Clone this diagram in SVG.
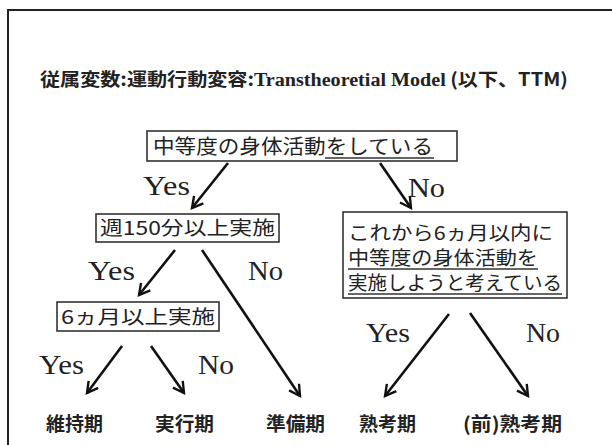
<svg xmlns="http://www.w3.org/2000/svg" width="612" height="445" viewBox="0 0 612 445">
<style>
.jp{font-family:"Noto Sans CJK JP","Noto Sans CJK SC",sans-serif;fill:#222;}
.lbl{font-family:"Liberation Serif",serif;font-size:28px;fill:#222;}
.box{fill:#fff;stroke:#333;stroke-width:1.6;}
.ar{stroke:#111;stroke-width:2.6;fill:none;marker-end:url(#ah);}
.ul{stroke:#333;stroke-width:1.3;}
</style>
<defs>
<marker id="ah" viewBox="0 0 12 12" refX="10" refY="6" markerWidth="5.5" markerHeight="5.5" orient="auto" markerUnits="strokeWidth">
<path d="M1,1 L10,6 L1,11" fill="none" stroke="#111" stroke-width="2"/>
</marker>
</defs>
<rect width="612" height="445" fill="#fff"/>
<path d="M8,445 L8,10 L612,10" fill="none" stroke="#222" stroke-width="2"/>
<g id="title">
<text x="40" y="86" class="jp" font-size="18" font-weight="bold" textLength="528" lengthAdjust="spacingAndGlyphs">従属変数:運動行動変容:<tspan font-family="Liberation Serif,serif">Transtheoretial Model</tspan> (以下、TTM)</text>
</g>
<g id="n1">
<rect class="box" x="147" y="131" width="310" height="30"/>
<text x="153" y="154" class="jp" font-size="20" textLength="280" lengthAdjust="spacingAndGlyphs">中等度の身体活動をしている</text>
<line class="ul" x1="325" y1="158" x2="434" y2="158"/>
</g>
<g id="n2">
<rect class="box" x="96" y="214" width="183" height="28"/>
<text x="100" y="235" class="jp" font-size="19" textLength="175" lengthAdjust="spacingAndGlyphs">週150分以上実施</text>
</g>
<g id="n3">
<rect class="box" x="343" y="212" width="224" height="86"/>
<text x="348" y="240" class="jp" font-size="19" textLength="205" lengthAdjust="spacingAndGlyphs">これから6ヵ月以内に</text>
<text x="348" y="265" class="jp" font-size="19" textLength="190" lengthAdjust="spacingAndGlyphs">中等度の身体活動を</text>
<text x="348" y="290" class="jp" font-size="19" textLength="214" lengthAdjust="spacingAndGlyphs">実施しようと考えている</text>
<line class="ul" x1="348" y1="269" x2="538" y2="269"/>
<line class="ul" x1="348" y1="294" x2="562" y2="294"/>
</g>
<g id="n4">
<rect class="box" x="57" y="302" width="162" height="29"/>
<text x="61" y="324" class="jp" font-size="19" textLength="154" lengthAdjust="spacingAndGlyphs">6ヵ月以上実施</text>
</g>
<g id="leaves" class="jp" font-size="19" font-weight="bold">
<text x="46" y="431" textLength="57" lengthAdjust="spacingAndGlyphs">維持期</text>
<text x="155" y="431" textLength="59" lengthAdjust="spacingAndGlyphs">実行期</text>
<text x="266" y="431" textLength="59" lengthAdjust="spacingAndGlyphs">準備期</text>
<text x="359" y="431" textLength="57" lengthAdjust="spacingAndGlyphs">熟考期</text>
<text x="463" y="431" textLength="99" lengthAdjust="spacingAndGlyphs">(前)熟考期</text>
</g>
<g id="connectors">
<line class="ar" x1="228" y1="163" x2="192" y2="208"/>
<line class="ar" x1="380" y1="163" x2="411" y2="208"/>
<line class="ar" x1="175" y1="250" x2="139" y2="295"/>
<line class="ar" x1="202" y1="250" x2="300" y2="396"/>
<line class="ar" x1="122" y1="346" x2="87" y2="393"/>
<line class="ar" x1="151" y1="346" x2="184" y2="393"/>
<line class="ar" x1="449" y1="314" x2="385" y2="396"/>
<line class="ar" x1="470" y1="313" x2="528" y2="396"/>
</g>
<g id="labels" class="lbl">
<text x="143" y="195" textLength="47" lengthAdjust="spacingAndGlyphs">Yes</text>
<text x="408" y="197" textLength="37" lengthAdjust="spacingAndGlyphs">No</text>
<text x="88" y="280" textLength="47" lengthAdjust="spacingAndGlyphs">Yes</text>
<text x="248" y="280" textLength="35" lengthAdjust="spacingAndGlyphs">No</text>
<text x="39" y="374" textLength="45" lengthAdjust="spacingAndGlyphs">Yes</text>
<text x="198" y="374" textLength="36" lengthAdjust="spacingAndGlyphs">No</text>
<text x="366" y="342" textLength="44" lengthAdjust="spacingAndGlyphs">Yes</text>
<text x="526" y="342" textLength="34" lengthAdjust="spacingAndGlyphs">No</text>
</g>
</svg>
